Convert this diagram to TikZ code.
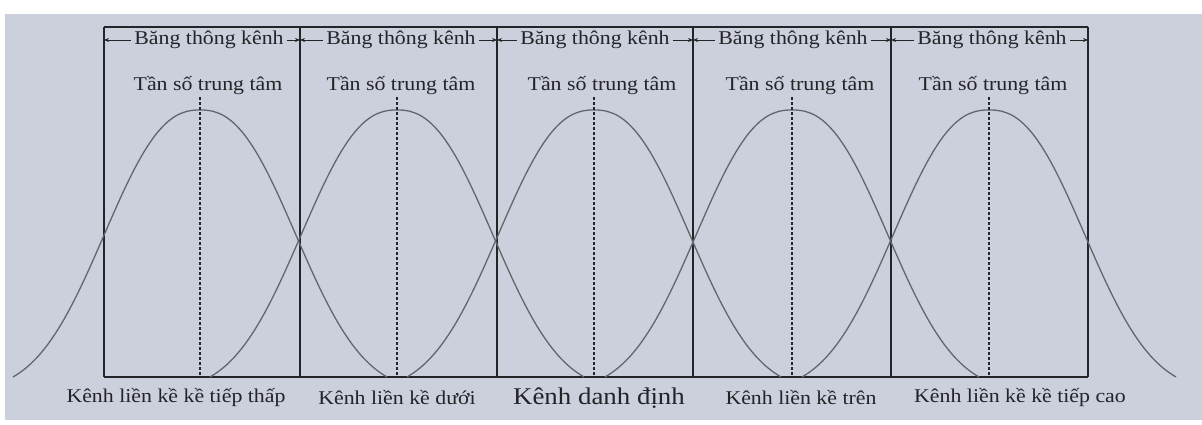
\documentclass[tikz,border=0pt]{standalone}
\usepackage{fontspec}
\setmainfont[FakeStretch=1.12]{Liberation Serif}
\usetikzlibrary{arrows.meta}
\definecolor{scan}{RGB}{204,208,221}
\definecolor{ink}{RGB}{35,35,40}
\definecolor{curvec}{RGB}{100,100,108}
\begin{document}
\begin{tikzpicture}[x=1pt,y=-1pt,
  lbl/.style={font=\fontsize{19.5}{22}\selectfont, text=ink, inner sep=3pt},
  biglbl/.style={font=\fontsize{24}{27}\selectfont, text=ink, inner sep=3pt},
  bound/.style={draw=ink, line width=1.3pt},
  centerline/.style={draw=ink, line width=2.3pt, dash pattern=on 3pt off 2pt},
  bell/.style={draw=curvec, line width=1.3pt},
  dimline/.style={draw=ink, line width=0.9pt, -{Stealth[length=5pt,width=4pt]}},
  declare function={bellf(\t)=(exp(-pow((abs(\t)+0.01)/120,2.4))-0.055)/0.945;}
]
\useasboundingbox (0,0) rectangle (1202,425);
\fill[white] (0,0) rectangle (1202,425);
\fill[scan] (5,14) rectangle (1202,420);

% channel boundaries
\foreach \i/\xx in {0/104,1/300,2/497,3/693,4/891,5/1088} {
  \coordinate (t\i) at (\xx,27);
  \coordinate (b\i) at (\xx,377);
}
\draw[bound] (t0) -- (t5);
\draw[bound] (b0) -- (b5);
\foreach \i in {0,...,5} \draw[bound] (t\i) -- (b\i);

% bell curves
\foreach \c in {200,397,594,792,989}
  \draw[bell] plot[domain=-187:187, samples=91, smooth] ({\c+\x},{377-267*bellf(\x)});

% centre frequency lines
\foreach \i/\xx in {1/200,2/397,3/594,4/792,5/989} {
  \coordinate (ct\i) at (\xx,97);
  \coordinate (cb\i) at (\xx,377);
  \draw[centerline] (ct\i) -- (cb\i);
}

% channel bandwidth labels with dimension lines
\foreach \i/\xx in {1/209,2/401,3/595,4/793,5/992} {
  \node[lbl] (bw\i) at (\xx,40) {Băng thông kênh};
}
\foreach \i/\l/\r in {1/0/1,2/1/2,3/2/3,4/3/4,5/4/5} {
  \draw[dimline] (bw\i.west) -- (bw\i.west -| t\l);
  \draw[dimline] (bw\i.east) -- (bw\i.east -| t\r);
}

% centre frequency labels
\foreach \i/\xx in {1/208,2/401,3/602,4/800,5/993}
  \node[lbl] (cf\i) at (\xx,86) {Tần số trung tâm};

% channel names
\node[lbl] (k1) at (176,398) {Kênh liền kề kề tiếp thấp};
\node[lbl] (k2) at (397,398) {Kênh liền kề dưới};
\node[biglbl] (k3) at (599,398) {Kênh danh định};
\node[lbl] (k4) at (801,398) {Kênh liền kề trên};
\node[lbl] (k5) at (1020,398) {Kênh liền kề kề tiếp cao};
\end{tikzpicture}
\end{document}
